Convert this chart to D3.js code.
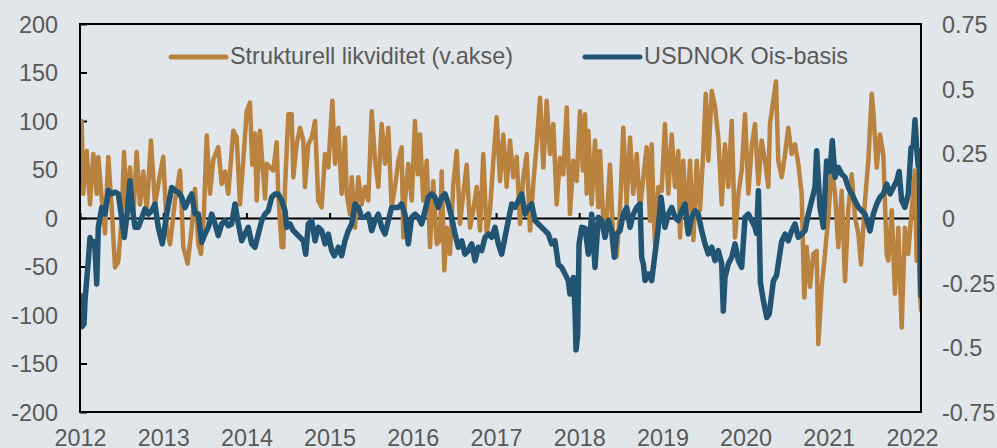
<!DOCTYPE html>
<html><head><meta charset="utf-8">
<script src="https://cdn.jsdelivr.net/npm/d3@7"></script>
<style>
html,body{margin:0;padding:0;background:#e1e6ea;}
svg{display:block;font-family:"Liberation Sans",Arial,sans-serif;}
</style></head><body>
<svg id="chart" width="997" height="448"></svg>
<script>
const liqYears = [2012.020,2012.040,2012.081,2012.120,2012.160,2012.201,2012.220,2012.261,2012.300,2012.340,2012.381,2012.421,2012.460,2012.501,2012.529,2012.561,2012.601,2012.641,2012.681,2012.721,2012.761,2012.802,2012.853,2012.901,2012.962,
2013.001,2013.042,2013.082,2013.142,2013.202,2013.242,2013.294,2013.343,2013.382,2013.422,2013.454,2013.487,2013.523,2013.563,2013.602,2013.662,2013.703,2013.743,2013.782,2013.843,2013.883,2013.923,2013.963,
2014.004,2014.043,2014.070,2014.103,2014.124,2014.163,2014.224,2014.244,2014.284,2014.323,2014.364,2014.383,2014.424,2014.444,2014.464,2014.504,2014.544,2014.564,2014.604,2014.644,2014.684,2014.704,2014.744,2014.785,2014.825,2014.864,2014.905,2014.945,2014.984,
2015.033,2015.065,2015.105,2015.145,2015.185,2015.205,2015.245,2015.266,2015.305,2015.345,2015.386,2015.425,2015.465,2015.506,2015.546,2015.585,2015.626,2015.666,2015.706,2015.746,2015.786,2015.826,2015.866,2015.886,2015.906,2015.946,2015.987,
2016.026,2016.060,2016.087,2016.126,2016.167,2016.207,2016.246,2016.287,2016.327,2016.347,2016.379,2016.407,2016.447,2016.487,2016.528,2016.567,2016.607,2016.648,2016.688,2016.727,2016.768,2016.808,2016.847,2016.888,2016.928,2016.968,
2017.008,2017.048,2017.088,2017.128,2017.168,2017.208,2017.249,2017.288,2017.328,2017.369,2017.409,2017.448,2017.489,2017.529,2017.569,2017.609,2017.649,2017.689,2017.729,2017.769,2017.809,2017.850,2017.889,2017.929,2017.970,
2018.010,2018.045,2018.070,2018.090,2018.110,2018.150,2018.190,2018.230,2018.250,2018.290,2018.330,2018.370,2018.410,2018.450,2018.490,2018.530,2018.570,2018.611,2018.650,2018.691,2018.731,2018.771,2018.811,2018.851,2018.871,2018.891,2018.911,2018.951,2018.991,
2019.031,2019.071,2019.112,2019.151,2019.191,2019.212,2019.251,2019.292,2019.332,2019.372,2019.412,2019.452,2019.492,2019.521,2019.552,2019.593,2019.632,2019.672,2019.713,2019.752,2019.792,2019.833,2019.873,2019.913,2019.953,2019.993,
2020.033,2020.073,2020.113,2020.153,2020.193,2020.233,2020.273,2020.293,2020.333,2020.365,2020.393,2020.434,2020.474,2020.513,2020.554,2020.594,2020.633,2020.674,2020.705,2020.734,2020.774,2020.814,2020.854,2020.874,2020.915,2020.954,2020.994,
2021.034,2021.075,2021.114,2021.155,2021.195,2021.234,2021.275,2021.315,2021.355,2021.387,2021.435,2021.475,2021.516,2021.535,2021.576,2021.615,2021.655,2021.696,2021.715,2021.756,2021.795,2021.835,2021.876,2021.915,2021.955,2021.996,
2022.036,2022.056,2022.075,2022.095,2022.108];
const liqValues = [100,25,69,14,66,25,63,20,-16,63,10,-51,-45,0,68,10,52,2,68,14,48,8,80,14,45,
63,-10,-27,18,49,-30,-47,-10,30,-27,-37,0,85,25,60,73,35,48,25,90,83,14,60,
110,119,55,87,18,90,20,56,52,49,78,25,-30,-30,32,107,107,42,76,93,80,32,76,83,100,18,11,66,52,
121,56,93,25,83,25,4,42,-10,42,14,32,18,110,59,32,97,56,93,11,32,59,73,-20,18,56,18,
100,45,86,18,59,-30,38,-27,-23,48,-54,-10,-37,35,69,-6,25,55,-10,8,32,-13,66,-16,8,59,
104,38,86,32,80,42,63,-6,42,66,-13,35,76,124,52,121,66,97,14,62,45,114,4,59,38,
110,49,107,25,90,14,80,11,69,-3,-3,55,-23,-40,8,93,14,83,25,66,8,42,73,-3,76,18,-27,32,28,
97,25,86,32,69,-20,59,-10,59,-23,59,8,69,128,59,131,115,83,14,76,32,100,-20,25,49,107,
25,73,97,35,80,59,32,97,121,141,59,42,66,93,66,76,56,25,-82,-30,-71,-37,-34,-130,-71,-37,1,
52,25,-30,28,-65,8,45,0,-16,-48,18,59,128,110,52,86,66,-37,-44,8,-78,-10,-113,-10,-37,8,
49,-44,45,-78,-95];

const basisYears = [2012.006,2012.024,2012.048,2012.060,2012.100,2012.120,2012.141,2012.160,2012.180,2012.201,2012.220,2012.261,2012.300,2012.340,2012.381,2012.421,2012.460,2012.501,2012.532,2012.561,2012.601,2012.629,2012.661,2012.701,2012.742,2012.781,2012.821,2012.862,2012.901,2012.941,2012.989,
2013.042,2013.102,2013.142,2013.181,2013.222,2013.262,2013.302,2013.343,2013.382,2013.422,2013.463,2013.502,2013.542,2013.583,2013.623,2013.662,2013.703,2013.743,2013.782,2013.823,2013.863,2013.903,2013.943,2013.983,
2014.023,2014.064,2014.103,2014.143,2014.184,2014.224,2014.263,2014.304,2014.344,2014.383,2014.424,2014.464,2014.484,2014.524,2014.564,2014.604,2014.644,2014.684,2014.713,2014.744,2014.785,2014.825,2014.864,2014.905,2014.945,2014.984,
2015.025,2015.056,2015.105,2015.145,2015.185,2015.225,2015.266,2015.305,2015.345,2015.386,2015.425,2015.465,2015.506,2015.546,2015.585,2015.626,2015.666,2015.706,2015.746,2015.786,2015.826,2015.866,2015.906,2015.946,2015.987,
2016.026,2016.066,2016.107,2016.147,2016.186,2016.227,2016.267,2016.306,2016.347,2016.387,2016.427,2016.467,2016.507,2016.547,2016.588,2016.627,2016.667,2016.708,2016.748,2016.787,2016.828,2016.868,2016.907,2016.948,2016.988,
2017.028,2017.068,2017.108,2017.148,2017.189,2017.228,2017.268,2017.309,2017.349,2017.388,2017.429,2017.469,2017.509,2017.549,2017.589,2017.629,2017.669,2017.709,2017.749,2017.790,2017.829,2017.869,2017.889,2017.929,2017.950,2017.962,2017.982,2017.998,
2018.030,2018.070,2018.110,2018.150,2018.190,2018.230,2018.270,2018.310,2018.350,2018.390,2018.422,2018.450,2018.490,2018.530,2018.570,2018.611,2018.650,2018.691,2018.731,2018.751,2018.771,2018.791,2018.831,2018.871,2018.911,2018.951,2018.983,
2019.031,2019.071,2019.112,2019.151,2019.191,2019.232,2019.272,2019.311,2019.352,2019.392,2019.431,2019.472,2019.512,2019.552,2019.593,2019.632,2019.672,2019.713,2019.732,2019.752,2019.792,2019.833,2019.873,2019.913,2019.953,2019.993,
2020.033,2020.073,2020.113,2020.132,2020.154,2020.178,2020.214,2020.255,2020.285,2020.333,2020.373,2020.434,2020.474,2020.513,2020.554,2020.594,2020.633,2020.674,2020.714,2020.754,2020.794,2020.834,2020.854,2020.894,2020.934,2020.974,
2021.014,2021.042,2021.075,2021.114,2021.155,2021.195,2021.234,2021.275,2021.315,2021.355,2021.396,2021.435,2021.495,2021.535,2021.576,2021.615,2021.655,2021.696,2021.736,2021.776,2021.817,2021.845,2021.876,2021.915,2021.955,2021.988,
2022.015,2022.036,2022.056,2022.075,2022.089,2022.099,2022.108];
const basisValues = [-0.30,-0.42,-0.41,-0.32,-0.165,-0.075,-0.10,-0.09,-0.115,-0.255,-0.036,0.04,0.015,0.106,0.093,0.10,0.093,0.0,-0.075,0.0,0.144,0.04,-0.036,-0.036,0.0,0.035,0.015,0.028,0.054,-0.036,-0.10,
0.015,0.118,0.106,0.10,0.08,0.04,0.067,0.093,0.015,0.015,-0.094,-0.062,-0.036,0.015,-0.023,-0.068,-0.023,-0.01,-0.03,-0.023,0.054,-0.023,-0.088,-0.062,
-0.036,-0.10,-0.113,-0.062,-0.01,0.015,0.028,0.08,0.093,0.093,0.067,0.028,-0.036,-0.023,-0.049,-0.062,-0.075,-0.088,-0.14,-0.023,-0.01,-0.088,-0.036,-0.049,-0.10,-0.062,
-0.126,-0.146,-0.113,-0.146,-0.088,-0.049,-0.023,0.054,0.041,0.003,0.003,0.015,-0.049,-0.01,0.015,-0.036,-0.062,-0.01,0.041,0.041,0.041,0.054,0.015,-0.10,0.003,
0.015,0.003,-0.023,0.028,0.08,0.093,0.08,0.041,0.08,0.093,0.054,0.003,-0.062,-0.113,-0.088,-0.14,-0.126,-0.10,-0.165,-0.113,-0.126,-0.075,-0.062,-0.075,-0.036,
-0.10,-0.14,-0.075,-0.01,0.054,0.041,0.067,0.093,0.015,0.041,0.054,-0.01,-0.023,-0.036,-0.049,-0.062,-0.10,-0.088,-0.18,-0.191,-0.216,-0.242,-0.294,-0.23,-0.36,-0.51,-0.45,-0.10,
-0.036,-0.04,-0.14,0.015,-0.191,0.003,-0.01,-0.075,-0.01,-0.049,-0.152,-0.062,-0.049,0.015,0.041,-0.036,0.015,0.041,0.054,-0.152,-0.178,-0.242,-0.216,-0.242,-0.139,-0.036,0.08,
-0.036,0.015,0.041,0.003,-0.01,0.028,0.054,-0.062,0.003,0.028,0.015,-0.049,-0.10,-0.139,-0.113,-0.165,-0.126,-0.178,-0.36,-0.23,-0.178,-0.152,-0.10,-0.165,-0.191,0.003,
0.015,-0.01,-0.036,-0.06,0.105,-0.25,-0.32,-0.385,-0.37,-0.245,-0.22,-0.09,-0.062,-0.088,-0.049,-0.023,-0.075,-0.062,-0.049,0.015,0.067,0.118,0.26,0.041,-0.036,0.22,
0.18,0.30,0.157,0.196,0.17,0.157,0.118,0.093,0.067,0.041,0.028,0.015,-0.05,0.015,0.054,0.08,0.093,0.131,0.093,0.118,0.144,0.18,0.067,0.041,0.093,0.27,
0.28,0.38,0.27,0.20,0.26,-0.19,-0.30];

const yearTicks = [2012,2013,2014,2015,2016,2017,2018,2019,2020,2021,2022];
const leftTicks = [-200,-150,-100,-50,0,50,100,150,200];
const rightTicks = [-0.75,-0.5,-0.25,0,0.25,0.5,0.75];
const seriesNames = ["Strukturell likviditet (v.akse)", "USDNOK Ois-basis"];
const seriesColors = ["#b9833f", "#215573"];

const svg = d3.select("#chart");
const P = {left:80, right:921, top:24, bottom:412};
const textColor = "#595959";
const fs = "23.4px";

svg.append("rect").attr("width",997).attr("height",448).attr("fill","#e1e6ea");

const x = d3.scaleLinear().domain([2012, 2012 + (P.right-P.left)/83.2]).range([P.left, P.right]);
const yL = d3.scaleLinear().domain([-200,200]).range([P.bottom, P.top]);
const yR = d3.scaleLinear().domain([-0.75,0.75]).range([P.bottom, P.top]);

svg.append("clipPath").attr("id","clip").append("rect")
  .attr("x",P.left).attr("y",P.top).attr("width",P.right-P.left).attr("height",P.bottom-P.top);

// zero line with year ticks
const zeroAxis = svg.append("g").attr("transform",`translate(0,${yL(0)})`)
  .call(d3.axisTop(x).tickValues(yearTicks).tickSize(5).tickSizeOuter(0).tickFormat(""));
zeroAxis.selectAll("path,line").attr("stroke","#000").attr("stroke-width",2);

// left axis
const la = svg.append("g").attr("transform",`translate(${P.left},0)`)
  .call(d3.axisLeft(yL).tickValues(leftTicks).tickSize(-7).tickPadding(22).tickFormat(d=>String(d)));
la.select(".domain").remove();
la.selectAll("line").attr("stroke","#000").attr("stroke-width",2);
la.selectAll("text").attr("fill",textColor).style("font-size",fs).attr("dy","0.36em");

// right axis
const ra = svg.append("g").attr("transform",`translate(${P.right},0)`)
  .call(d3.axisRight(yR).tickValues(rightTicks).tickSize(0).tickPadding(21).tickFormat(d=>String(d)));
ra.select(".domain").remove();
ra.selectAll("text").attr("fill",textColor).style("font-size",fs).attr("dy","0.36em");

// bottom labels
const ba = svg.append("g").attr("transform",`translate(0,${P.bottom})`)
  .call(d3.axisBottom(x).tickValues(yearTicks).tickSize(0).tickPadding(17).tickFormat(d=>String(d)));
ba.select(".domain").remove();
ba.selectAll("text").attr("fill",textColor).style("font-size",fs);

svg.selectAll("g").attr("font-family",null);

// lines
const liq = liqYears.map((t,i)=>({t, v:liqValues[i]}));
const bas = basisYears.map((t,i)=>({t, v:basisValues[i]}));
const gl = svg.append("g").attr("clip-path","url(#clip)");
gl.append("path").datum(liq)
  .attr("d", d3.line().x(d=>x(d.t)).y(d=>yL(d.v)))
  .attr("fill","none").attr("stroke",seriesColors[0]).attr("stroke-width",4.5)
  .attr("stroke-linejoin","round").attr("stroke-linecap","round");
gl.append("path").datum(bas)
  .attr("d", d3.line().x(d=>x(d.t)).y(d=>yR(d.v)))
  .attr("fill","none").attr("stroke",seriesColors[1]).attr("stroke-width",5.5)
  .attr("stroke-linejoin","round").attr("stroke-linecap","round");

// frame
svg.append("rect").attr("x",P.left).attr("y",P.top)
  .attr("width",P.right-P.left).attr("height",P.bottom-P.top)
  .attr("fill","none").attr("stroke","#000").attr("stroke-width",2);

// legend
const legendX = [171, 585];
seriesNames.forEach((name,i)=>{
  svg.append("line").attr("x1",legendX[i]).attr("x2",legendX[i]+55)
    .attr("y1",57).attr("y2",57).attr("stroke",seriesColors[i])
    .attr("stroke-width",5).attr("stroke-linecap","round");
  svg.append("text").attr("x",legendX[i]+59).attr("y",64)
    .attr("fill",textColor).style("font-size",fs).text(name);
});
</script>
</body></html>
